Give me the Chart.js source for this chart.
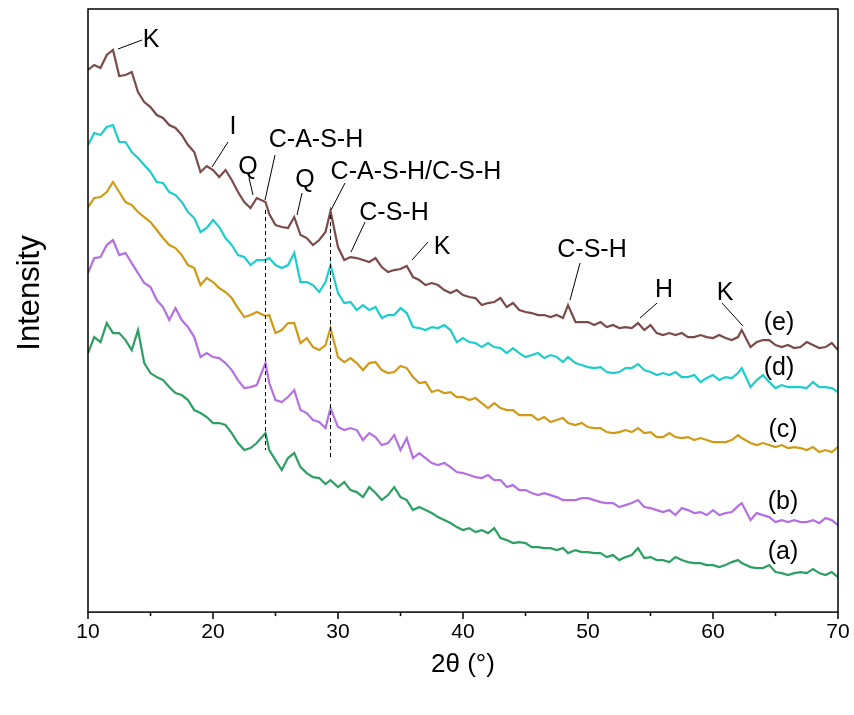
<!DOCTYPE html>
<html>
<head>
<meta charset="utf-8">
<script src="https://cdn.jsdelivr.net/npm/chart.js@4.4.1/dist/chart.umd.min.js"></script>
<style>
  body { margin: 0; background: #fff; }
  canvas { display: block; }
</style>
</head>
<body>
<canvas id="idCanvas" width="854" height="715"></canvas>
<script>
// 2-theta positions (degrees), shared by all five patterns
const twoTheta = [
  10, 10.5, 11, 11.5, 12, 12.5, 13, 13.5, 14, 14.5,
  15, 15.5, 16, 16.5, 17, 17.5, 18, 18.5, 19, 19.5,
  20, 20.5, 21, 21.5, 22, 22.5, 23, 23.5, 24.2, 24.5,
  25, 25.5, 26, 26.5, 27, 27.5, 28, 28.5, 29, 29.4,
  30, 30.5, 31, 31.5, 32, 32.5, 33, 33.5, 34, 34.5,
  35, 35.5, 36, 36.5, 37, 37.5, 38, 38.5, 39, 39.5,
  40, 40.5, 41, 41.5, 42, 42.5, 43, 43.5, 44, 44.5,
  45, 45.5, 46, 46.5, 47, 47.5, 48, 48.4, 49, 49.5,
  50, 50.5, 51, 51.5, 52, 52.5, 53, 53.5, 54, 54.5,
  55, 55.5, 56, 56.5, 57, 57.5, 58, 58.5, 59, 59.5,
  60, 60.5, 61, 61.5, 62, 62.3, 63, 63.5, 64, 64.5,
  65, 65.5, 66, 66.5, 67, 67.5, 68, 68.5, 69, 69.5,
  70
];

// intensities (a.u., stacked with offsets as in the figure)
const sampleA = [
  259, 275, 270, 289, 279, 279, 272, 262, 282, 249,
  239, 235, 232, 225, 219, 217, 212, 202, 199, 195,
  189, 189, 187, 179, 169, 162, 164, 169, 179, 162,
  152, 142, 154, 159, 145, 139, 135, 134, 128, 132,
  125, 130, 122, 120, 115, 125, 119, 112, 117, 125,
  115, 112, 102, 105, 102, 99, 95, 92, 89, 85,
  82, 84, 80, 82, 79, 84, 74, 72, 69, 70,
  69, 65, 65, 64, 64, 62, 64, 59, 62, 60,
  60, 59, 59, 55, 57, 52, 55, 57, 64, 54,
  55, 52, 52, 50, 55, 52, 50, 49, 49, 47,
  47, 45, 47, 50, 52, 49, 45, 44, 44, 47,
  40, 39, 37, 39, 40, 39, 43, 39, 37, 40,
  35
];
const sampleB = [
  339, 354, 355, 367, 372, 357, 359, 349, 339, 329,
  325, 312, 305, 292, 304, 292, 285, 275, 255, 259,
  255, 254, 249, 242, 232, 224, 225, 227, 249, 229,
  212, 210, 215, 222, 202, 199, 192, 190, 184, 204,
  185, 182, 184, 182, 172, 179, 175, 167, 169, 177,
  162, 174, 154, 159, 154, 149, 147, 149, 145, 140,
  139, 137, 135, 134, 137, 132, 132, 125, 127, 122,
  122, 119, 117, 119, 117, 115, 112, 112, 112, 114,
  114, 112, 110, 109, 109, 105, 107, 109, 112, 105,
  104, 102, 100, 102, 97, 104, 102, 99, 100, 97,
  102, 97, 99, 100, 106, 109, 92, 99, 97, 95,
  90, 92, 90, 92, 90, 90, 92, 89, 94, 92,
  87
];
const sampleC = [
  405, 414, 415, 420, 430, 420, 410, 407, 400, 395,
  390, 382, 374, 367, 364, 357, 347, 344, 327, 334,
  330, 324, 320, 314, 304, 295, 297, 300, 296, 297,
  279, 282, 289, 289, 269, 274, 265, 262, 267, 284,
  255, 250, 254, 249, 242, 249, 250, 242, 239, 240,
  246, 244, 235, 229, 230, 220, 222, 219, 220, 215,
  215, 212, 214, 209, 204, 209, 204, 202, 202, 197,
  197, 197, 192, 195, 190, 192, 194, 189, 187, 189,
  185, 184, 184, 180, 179, 180, 182, 180, 184, 179,
  180, 175, 175, 179, 175, 174, 175, 172, 174, 172,
  170, 170, 170, 172, 177, 174, 169, 167, 169, 167,
  165, 167, 164, 165, 164, 162, 165, 160, 162, 160,
  165
];
const sampleD = [
  467, 479, 477, 485, 487, 470, 470, 460, 454, 447,
  440, 430, 429, 420, 417, 410, 400, 394, 380, 384,
  392, 385, 374, 367, 357, 355, 347, 352, 352, 354,
  347, 344, 347, 359, 330, 330, 327, 320, 330, 347,
  319, 309, 310, 302, 307, 302, 305, 294, 297, 297,
  304, 299, 285, 284, 282, 285, 284, 287, 282, 270,
  274, 270, 269, 265, 269, 265, 264, 259, 264, 259,
  255, 257, 259, 254, 257, 255, 250, 255, 249, 247,
  245, 244, 245, 240, 239, 240, 244, 244, 248, 242,
  240, 237, 239, 237, 240, 235, 235, 237, 230, 234,
  237, 232, 235, 234, 239, 244, 225, 232, 237, 230,
  224, 227, 225, 225, 225, 224, 230, 225, 225, 224,
  220
];
const sampleE = [
  542, 547, 544, 557, 562, 536, 537, 540, 520, 510,
  505, 497, 494, 487, 484, 477, 467, 460, 440, 446,
  442, 435, 442, 432, 420, 410, 404, 414, 410, 398,
  387, 385, 384, 395, 377, 374, 367, 372, 380, 401,
  365, 352, 355, 354, 352, 350, 354, 345, 340, 342,
  343, 346, 335, 332, 327, 329, 327, 322, 319, 322,
  317, 315, 314, 307, 309, 310, 314, 305, 309, 302,
  300, 299, 297, 297, 295, 297, 294, 307, 290, 290,
  290, 287, 290, 285, 287, 284, 285, 284, 289, 282,
  287, 279, 277, 279, 277, 279, 275, 275, 277, 275,
  274, 277, 274, 272, 275, 282, 265, 270, 272, 272,
  267, 265, 267, 264, 265, 270, 267, 264, 265, 269,
  262
];

const seriesNames = ['(a)', '(b)', '(c)', '(d)', '(e)'];
const seriesValues = [sampleA, sampleB, sampleC, sampleD, sampleE];
const seriesColors = ['#2e9f62', '#b470e2', '#cf9b16', '#1dcdcd', '#7b4a4a'];
const xTicks = [10, 20, 30, 40, 50, 60, 70];

// phase labels: text, text anchor (2theta, intensity), leader line from -> to
const phaseLabels = [
  { text: 'K', at: [15.04, 572], from: [12.4, 563], to: [14.32, 572] },
  { text: 'I', at: [21.6, 485], from: [19.92, 445], to: [21.2, 470] },
  { text: 'Q', at: [22.8, 445], from: [23.2, 417], to: [22.88, 434] },
  { text: 'C-A-S-H', at: [28.24, 472], from: [24.16, 412], to: [24.96, 457] },
  { text: 'Q', at: [27.36, 432], from: [26.72, 397], to: [27.12, 419] },
  { text: 'C-A-S-H/C-S-H', at: [36.24, 440], from: [29.44, 402], to: [30.56, 429] },
  { text: 'C-S-H', at: [34.48, 399], from: [31.04, 360], to: [32.16, 390] },
  { text: 'K', at: [38.32, 365], from: [35.92, 352], to: [37.2, 370] },
  { text: 'C-S-H', at: [50.32, 362], from: [48.56, 312], to: [49.36, 349] },
  { text: 'H', at: [56.08, 322], from: [54.16, 294], to: [55.52, 309] },
  { text: 'K', at: [60.96, 319], from: [62.4, 286], to: [60.72, 309] }
];
const curveLabels = [
  { text: '(e)', at: [65.28, 289] },
  { text: '(d)', at: [65.28, 244] },
  { text: '(c)', at: [65.6, 182] },
  { text: '(b)', at: [65.6, 110] },
  { text: '(a)', at: [65.6, 60] }
];
// dashed guide lines at 2theta, from intensity y1 to y2
const guideLines = [
  { x: 24.2, y1: 402, y2: 162 },
  { x: 29.4, y1: 397, y2: 155 }
];

Chart.defaults.font.family = '"Liberation Sans", Arial, sans-serif';
Chart.defaults.color = '#000';

const decor = {
  id: 'decor',
  afterDatasetsDraw(chart) {
    const ctx = chart.ctx;
    const a = chart.chartArea;
    const xs = chart.scales.x;
    const ys = chart.scales.y;
    const px = (v) => xs.getPixelForValue(v);
    const py = (v) => ys.getPixelForValue(v);
    ctx.save();

    // frame
    ctx.strokeStyle = '#000';
    ctx.lineWidth = 1.5;
    ctx.strokeRect(a.left, a.top, a.right - a.left, a.bottom - a.top);

    // major + minor ticks, outward
    for (let t = 10; t <= 70; t += 5) {
      const len = t % 10 === 0 ? 7 : 4;
      ctx.beginPath();
      ctx.moveTo(px(t), a.bottom);
      ctx.lineTo(px(t), a.bottom + len);
      ctx.stroke();
    }

    // dashed guide lines
    ctx.lineWidth = 1;
    ctx.setLineDash([4, 3]);
    guideLines.forEach(g => {
      ctx.beginPath();
      ctx.moveTo(px(g.x), py(g.y1));
      ctx.lineTo(px(g.x), py(g.y2));
      ctx.stroke();
    });
    ctx.setLineDash([]);

    // leader lines
    phaseLabels.forEach(l => {
      ctx.beginPath();
      ctx.moveTo(px(l.from[0]), py(l.from[1]));
      ctx.lineTo(px(l.to[0]), py(l.to[1]));
      ctx.stroke();
    });

    // texts
    ctx.fillStyle = '#000';
    ctx.textAlign = 'center';
    ctx.textBaseline = 'middle';
    ctx.font = '25px "Liberation Sans", Arial, sans-serif';
    phaseLabels.forEach(l => ctx.fillText(l.text, px(l.at[0]), py(l.at[1])));
    curveLabels.forEach(l => ctx.fillText(l.text, px(l.at[0]), py(l.at[1])));

    // x axis title
    ctx.font = '26px "Liberation Sans", Arial, sans-serif';
    ctx.fillText('2θ (°)', (a.left + a.right) / 2, a.bottom + 53);

    // y axis title
    ctx.translate(30, 293);
    ctx.rotate(-Math.PI / 2);
    ctx.font = '31px "Liberation Sans", Arial, sans-serif';
    ctx.fillText('Intensity', 0, 0);
    ctx.restore();
  }
};

let ctx = document.getElementById('idCanvas').getContext('2d');
let myChart = new Chart(ctx, {
  type: 'line',
  data: {
    datasets: seriesValues.map((vals, i) => ({
      label: seriesNames[i],
      data: vals.map((v, j) => ({ x: twoTheta[j], y: v })),
      borderColor: seriesColors[i],
      borderWidth: 2.2,
      pointRadius: 0,
      tension: 0,
      fill: false
    }))
  },
  options: {
    responsive: false,
    animation: false,
    layout: { padding: { left: 88, right: 16, top: 9, bottom: 63 } },
    plugins: { legend: { display: false }, tooltip: { enabled: false } },
    scales: {
      x: {
        type: 'linear',
        min: 10,
        max: 70,
        grid: { display: false, drawTicks: false },
        border: { display: false },
        afterBuildTicks: (axis) => { axis.ticks = xTicks.map(v => ({ value: v })); },
        ticks: { color: '#000', font: { size: 21, lineHeight: 1.9 }, padding: 0, maxRotation: 0 },
        title: { display: false }
      },
      y: {
        display: false,
        min: 0,
        max: 603
      }
    }
  },
  plugins: [decor]
});
</script>
</body>
</html>
